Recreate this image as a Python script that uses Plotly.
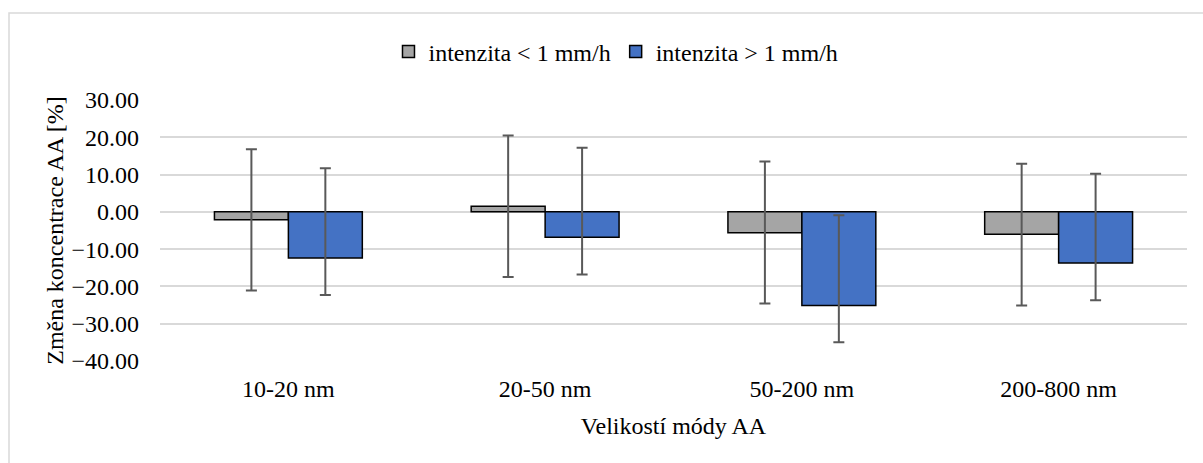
import plotly.graph_objects as go

# Size modes of the aerosol (AA) and change of concentration in %
categories = ["10-20 nm", "20-50 nm", "50-200 nm", "200-800 nm"]

low_name = "intenzita < 1 mm/h"
low_values = [-2.1, 1.5, -5.6, -6.0]
low_err_plus = [18.9, 19.0, 19.1, 18.9]
low_err_minus = [19.0, 19.0, 19.0, 19.1]

high_name = "intenzita > 1 mm/h"
high_values = [-12.4, -6.8, -25.1, -13.7]
high_err_plus = [24.1, 24.0, 24.2, 23.9]
high_err_minus = [9.9, 10.0, 9.9, 10.0]

y_ticks = [30, 20, 10, 0, -10, -20, -30, -40]

FONT = "Liberation Serif"
FS = 24
ERR_COLOR = "#595959"

fig = go.Figure()
fig.add_trace(go.Bar(
    name=low_name, x=categories, y=low_values,
    marker=dict(color="#A5A5A5", line=dict(color="#000000", width=1.5)),
    error_y=dict(type="data", symmetric=False, array=low_err_plus,
                 arrayminus=low_err_minus, color=ERR_COLOR, thickness=2, width=5.5),
))
fig.add_trace(go.Bar(
    name=high_name, x=categories, y=high_values,
    marker=dict(color="#4472C4", line=dict(color="#000000", width=1.5)),
    error_y=dict(type="data", symmetric=False, array=high_err_plus,
                 arrayminus=high_err_minus, color=ERR_COLOR, thickness=2, width=5.5),
))

fig.update_layout(
    width=1203, height=463,
    margin=dict(l=160, r=16, t=100, b=102),
    paper_bgcolor="white", plot_bgcolor="white",
    font=dict(family=FONT, size=FS, color="#000000"),
    barmode="group", bargap=0.424, bargroupgap=0,
    showlegend=True,
    legend=dict(orientation="h", x=0.444, xanchor="center", y=1.184, yanchor="middle",
                font=dict(family=FONT, size=FS), itemwidth=30, bgcolor="rgba(0,0,0,0)"),
    xaxis=dict(
        showgrid=False, showline=False, zeroline=False, ticks="",
        ticklabelstandoff=11,
        tickfont=dict(family=FONT, size=FS),
        title=dict(text="Velikostí módy AA", font=dict(family=FONT, size=FS), standoff=16),
        automargin=False,
    ),
    yaxis=dict(
        range=[-40, 30], tickvals=y_ticks, tickformat=".2f",
        showgrid=True, gridcolor="#d9d9d9", gridwidth=1.5,
        zeroline=True, zerolinecolor="#d9d9d9", zerolinewidth=1.5,
        showline=False, ticks="", ticklabelstandoff=20,
        tickfont=dict(family=FONT, size=FS),
        title=dict(text="Změna koncentrace AA [%]", font=dict(family=FONT, size=FS), standoff=1),
        automargin=False,
    ),
    shapes=[dict(type="rect", xref="paper", yref="paper",
                 x0=-(160 - 9) / 1027, x1=1.5, y0=-2, y1=1 + (100 - 13) / 260.7,
                 line=dict(color="#d9d9d9", width=1.5), fillcolor="rgba(0,0,0,0)",
                 layer="below")],
)

fig.write_html("out.html")
